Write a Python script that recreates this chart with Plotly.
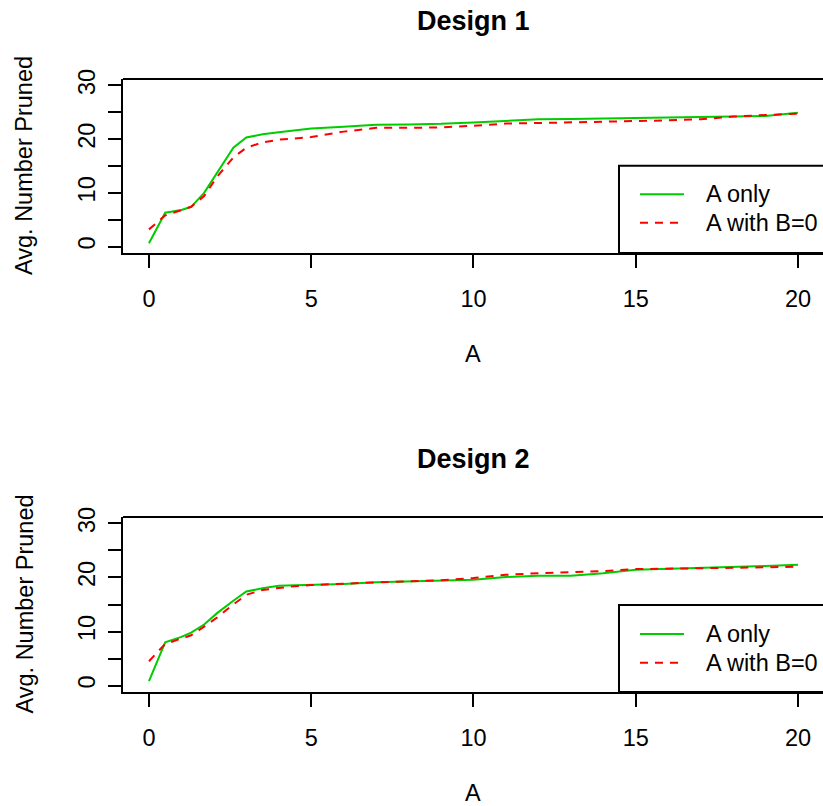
import plotly.graph_objects as go

x_vals = [0, 0.5, 1, 1.3, 1.7, 2.1, 2.6, 3, 3.5, 4, 4.5, 5, 6, 7, 8, 9, 10,
          11, 12, 13, 14, 15, 16, 17, 18, 19, 20]

d1_a_only = [0.6, 6.3, 6.8, 7.4, 10.0, 13.7, 18.4, 20.3, 20.9, 21.3, 21.7, 22.0,
             22.3, 22.7, 22.75, 22.85, 23.1, 23.4, 23.7, 23.75, 23.85, 24.0,
             24.05, 24.2, 24.25, 24.3, 24.9]
d1_a_b0 = [3.2, 5.8, 6.8, 7.4, 9.4, 13.0, 16.6, 18.4, 19.4, 19.9, 20.1, 20.4,
           21.4, 22.1, 22.1, 22.2, 22.5, 22.9, 23.0, 23.1, 23.3, 23.4, 23.5,
           23.7, 24.2, 24.5, 24.75]
d2_a_only = [0.8, 8.0, 9.0, 9.8, 11.3, 13.4, 15.7, 17.4, 18.0, 18.45, 18.55, 18.6,
             18.8, 19.1, 19.3, 19.45, 19.6, 20.1, 20.3, 20.3, 20.8, 21.45, 21.6,
             21.8, 22.0, 22.15, 22.35]
d2_a_b0 = [4.5, 7.7, 8.7, 9.3, 10.9, 12.6, 15.0, 16.8, 17.7, 18.1, 18.4, 18.6,
           18.9, 19.1, 19.3, 19.5, 19.9, 20.5, 20.8, 20.95, 21.2, 21.55, 21.6,
           21.7, 21.8, 21.9, 22.0]

titles = ["Design 1", "Design 2"]
series_names = ["A only", "A with B=0"]
x_ticks = [0, 5, 10, 15, 20]
y_ticks = [0, 5, 10, 15, 20, 25, 30]
y_ticktext = ["0", "", "10", "", "20", "", "30"]

GREEN = "#00CD00"
RED = "#FF0000"
FONT = "Liberation Sans, Arial, Helvetica, sans-serif"
AX_SIZE = 23.5

W, H = 823, 806
ML, MR, MT, MB = 123, 0, 79, 114
plot_h = H - MT - MB
plot_w = W - ML - MR

def py_to_paper(py):
    return (H - MB - py) / plot_h

def px_to_paper(px):
    return (px - ML) / plot_w

domains = [[py_to_paper(253), py_to_paper(79)], [py_to_paper(692), py_to_paper(517)]]

fig = go.Figure()
data = [(d1_a_only, d1_a_b0), (d2_a_only, d2_a_b0)]
for i, (ga, rb) in enumerate(data):
    xa = "x" if i == 0 else "x2"
    ya = "y" if i == 0 else "y2"
    fig.add_trace(go.Scatter(x=x_vals, y=ga, mode="lines", name=series_names[0],
                             line=dict(color=GREEN, width=2), xaxis=xa, yaxis=ya,
                             showlegend=False))
    fig.add_trace(go.Scatter(x=x_vals, y=rb, mode="lines", name=series_names[1],
                             line=dict(color=RED, width=2, dash="8px,7px"),
                             xaxis=xa, yaxis=ya, showlegend=False))

axis_common = dict(showgrid=False, zeroline=False, showline=True, linecolor="black",
                   linewidth=2, ticks="outside", ticklen=13, tickwidth=2,
                   tickcolor="black", mirror=False,
                   tickfont=dict(family=FONT, size=AX_SIZE, color="black"))

x_range = [-0.8, -0.8 + plot_w / 32.45]
y_range = [-1.2, 31.2]

layout_axes = {}
for i in range(2):
    sx = "" if i == 0 else "2"
    layout_axes["xaxis" + sx] = dict(axis_common, range=x_range, tickvals=x_ticks,
                                     anchor="y" + sx, domain=[0, 1],
                                     ticklabelstandoff=11)
    layout_axes["yaxis" + sx] = dict(axis_common, range=y_range, tickvals=y_ticks,
                                     ticktext=y_ticktext, tickangle=-90,
                                     anchor="x" + sx, domain=domains[i],
                                     ticklabelstandoff=4)

fig.update_layout(width=W, height=H, margin=dict(l=ML, r=MR, t=MT, b=MB),
                  paper_bgcolor="white", plot_bgcolor="white",
                  font=dict(family=FONT, color="black"), **layout_axes)

shapes = []
annotations = []
plot_tops = [79, 517]
plot_bottoms = [253, 692]
legend_line_y = [(194.3, 222.7), (634.0, 662.7)]
legend_top = [165.7, 605.0]
for i in range(2):
    sx = "" if i == 0 else "2"
    # top border of the plot box
    shapes.append(dict(type="line", xref="x" + sx + " domain", yref="y" + sx + " domain",
                       x0=0, x1=1, y0=1, y1=1, line=dict(color="black", width=2)))
    # legend box
    shapes.append(dict(type="rect", xref="paper", yref="paper",
                       x0=px_to_paper(619), x1=1.02,
                       y0=py_to_paper(plot_bottoms[i]), y1=py_to_paper(legend_top[i]),
                       line=dict(color="black", width=2), fillcolor="white", layer="above"))
    for j, (col, dash) in enumerate([(GREEN, "solid"), (RED, "8px,7px")]):
        ly = py_to_paper(legend_line_y[i][j])
        shapes.append(dict(type="line", xref="paper", yref="paper",
                           x0=px_to_paper(640), x1=px_to_paper(684), y0=ly, y1=ly,
                           line=dict(color=col, width=2, dash=dash), layer="above"))
        annotations.append(dict(text=series_names[j], xref="paper", yref="paper",
                                x=px_to_paper(704), y=ly, xanchor="left", yanchor="middle",
                                showarrow=False,
                                font=dict(family=FONT, size=AX_SIZE, color="black")))
    # title
    annotations.append(dict(text="<b>" + titles[i] + "</b>", xref="x" + sx, yref="paper",
                            x=10, y=py_to_paper(plot_tops[i] - 58), xanchor="center",
                            yanchor="middle", showarrow=False,
                            font=dict(family=FONT, size=27, color="black")))
    # x axis title
    annotations.append(dict(text="A", xref="x" + sx, yref="paper",
                            x=10, y=py_to_paper(plot_bottoms[i] + 101), xanchor="center",
                            yanchor="middle", showarrow=False,
                            font=dict(family=FONT, size=AX_SIZE, color="black")))
    # y axis title
    annotations.append(dict(text="Avg. Number Pruned", xref="paper", yref="y" + sx + " domain",
                            x=px_to_paper(24), y=0.5, xanchor="center", yanchor="middle",
                            textangle=-90, showarrow=False,
                            font=dict(family=FONT, size=AX_SIZE, color="black")))

fig.update_layout(shapes=shapes, annotations=annotations)
fig.write_html("out.html")
